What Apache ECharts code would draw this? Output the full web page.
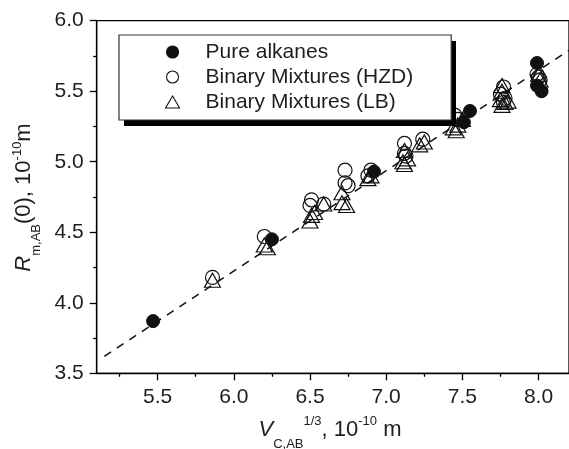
<!DOCTYPE html>
<html><head><meta charset="utf-8">
<script src="https://cdn.jsdelivr.net/npm/echarts@6/dist/echarts.min.js"></script>
<style>html,body{margin:0;padding:0;background:#fff}#c{width:569px;height:449px}</style>
</head><body><div id="c"></div>
<script>
const seriesNames = ['Pure alkanes', 'Binary Mixtures (HZD)', 'Binary Mixtures (LB)'];
const pureAlkanes = [[5.47,3.87],[6.25,4.45],[6.92,4.93],[7.51,5.28],[7.55,5.36],[7.99,5.70],[7.99,5.54],[8.02,5.50]];
const hzd = [[5.86,4.18],[6.20,4.47],[6.51,4.73],[6.50,4.69],[6.59,4.70],[6.73,4.94],[6.73,4.85],[6.75,4.83],
  [6.88,4.90],[6.90,4.94],[7.12,5.13],[7.12,5.06],[7.13,5.04],[7.24,5.16],[7.45,5.33],[7.47,5.30],
  [7.75,5.48],[7.77,5.53],[7.78,5.45],[7.77,5.42],[7.99,5.62],[8.00,5.60],[8.01,5.58]];
const lb = [[5.86,4.16],[6.20,4.41],[6.22,4.39],[6.50,4.58],[6.51,4.62],[6.53,4.64],[6.59,4.70],[6.71,4.78],
  [6.71,4.71],[6.74,4.69],[6.88,4.88],[6.90,4.90],[7.11,5.00],[7.12,4.98],[7.12,5.08],[7.14,5.02],
  [7.22,5.12],[7.25,5.14],[7.44,5.24],[7.46,5.22],[7.47,5.26],[7.50,5.30],[7.76,5.54],[7.76,5.50],
  [7.75,5.44],[7.78,5.42],[7.76,5.40],[7.80,5.43],[8.00,5.62],[8.01,5.58]];
const fitLine = [[5.15,3.62],[8.2,5.79]];
const xMajorTicks = [5.5,6.0,6.5,7.0,7.5,8.0];
const xMinorTicks = [5.25,5.75,6.25,6.75,7.25,7.75];
const yMajorTicks = [3.5,4.0,4.5,5.0,5.5,6.0];
const yMinorTicks = [3.75,4.25,4.75,5.25,5.75];

const FF = 'Liberation Sans, Arial, sans-serif';
const ink = '#000';
const txt = '#1e1e1e';

function axisPair(dim, min, max, major, minor) {
  const pos = dim === 'x' ? 'bottom' : 'left';
  return [
    { type:'value', min:min, max:max, position:pos,
      axisLine:{show:true, onZero:false, lineStyle:{color:ink, width:1.3}},
      axisTick:{show:true, inside:false, length:7, customValues:major, lineStyle:{color:ink, width:1.3}},
      axisLabel:{customValues:major, formatter:v=>v.toFixed(1), fontSize:21, fontFamily:FF, color:txt, margin:13},
      splitLine:{show:false} },
    { type:'value', min:min, max:max, position:pos,
      axisLine:{show:false},
      axisTick:{show:true, inside:false, length:3.5, customValues:minor, lineStyle:{color:ink, width:1.3}},
      axisLabel:{show:false}, splitLine:{show:false} }
  ];
}

const tok = (size, extra) => Object.assign({fontSize:size, fontFamily:FF, fill:txt, lineHeight:size}, extra||{});

const chart = echarts.init(document.getElementById('c'), null, {renderer:'canvas'});
chart.setOption({
  animation:false,
  backgroundColor:'#fff',
  grid:{left:96.7, top:20.7, width:476.6, height:352.6, show:true, borderColor:ink, borderWidth:1.3, backgroundColor:'transparent'},
  xAxis: axisPair('x', 5.1, 8.2, xMajorTicks, xMinorTicks),
  yAxis: axisPair('y', 3.5, 6.0, yMajorTicks, yMinorTicks),
  legend:{
    data:seriesNames, orient:'vertical', left:119, top:35, z:20,
    padding:[5,38,6,46], itemWidth:14, itemHeight:12, itemGap:1,
    backgroundColor:'#fff', borderColor:'#333', borderWidth:1.2,
    selectedMode:false,
    itemStyle:{borderWidth:1.1},
    textStyle:{fontSize:21, fontFamily:FF, color:txt, lineHeight:24, padding:[0,0,0,21]}
  },
  graphic:[
    { type:'rect', z:15, silent:true, shape:{x:124, y:41, width:332, height:85}, style:{fill:'#000'} },
    { type:'text', x:330, y:430, z:10,
      style:{ text:'{v|V}{sub|C,AB}{sup|1/3}{n|, 10}{sup|-10}{n| m}', align:'center', verticalAlign:'middle',
        fontSize:22, fontFamily:FF, fill:txt,
        rich:{ v:tok(22,{fontStyle:'italic'}), n:tok(22), sub:tok(13,{padding:[28,0,0,0]}), sup:tok(13,{padding:[0,0,17,0]}) } } },
    { type:'text', x:24, y:197.5, rotation:Math.PI/2, z:10,
      style:{ text:'{v|R}{sub|m,AB}{n|(0), 10}{sup|-10}{n|m}', align:'center', verticalAlign:'middle',
        fontSize:22, fontFamily:FF, fill:txt,
        rich:{ v:tok(22,{fontStyle:'italic'}), n:tok(22), sub:tok(13,{padding:[24,0,0,0]}), sup:tok(13,{padding:[0,0,14,0]}) } } }
  ],
  series:[
    { name:'fit', type:'line', data:fitLine, symbol:'none', silent:true, z:1,
      lineStyle:{color:'#111', width:1.5, type:[8,7]} },
    { name:seriesNames[1], type:'scatter', data:hzd, symbol:'circle', symbolSize:14, z:2,
      itemStyle:{color:'rgba(255,255,255,0)', borderColor:'#111', borderWidth:1.2, opacity:1}, emphasis:{disabled:true} },
    { name:seriesNames[2], type:'scatter', data:lb, symbol:'triangle', symbolSize:[16,14], z:2,
      itemStyle:{color:'rgba(255,255,255,0)', borderColor:'#111', borderWidth:1.2, opacity:1}, emphasis:{disabled:true} },
    { name:seriesNames[0], type:'scatter', data:pureAlkanes, symbol:'circle', symbolSize:13, z:3,
      itemStyle:{color:'#111', borderColor:'#111', borderWidth:1, opacity:1}, emphasis:{disabled:true} }
  ]
});
</script></body></html>
